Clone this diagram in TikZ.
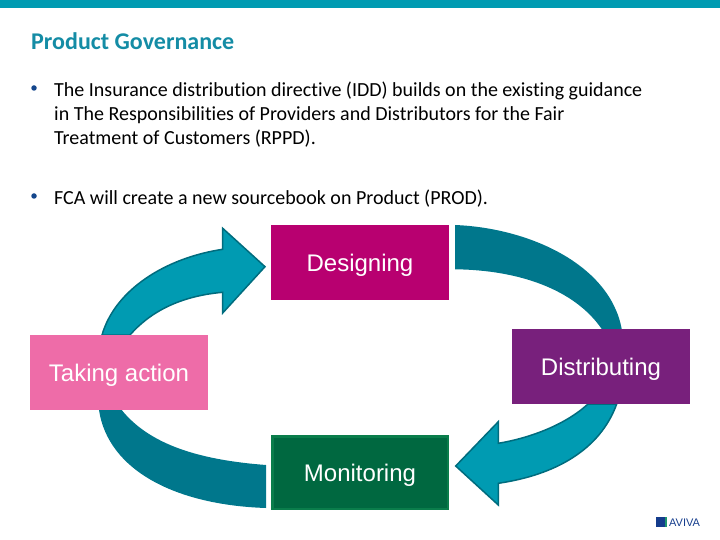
\documentclass[tikz,border=0pt]{standalone}
\usepackage{xcolor}
\usepackage{fontspec}
\setmainfont[Ligatures=NoCommon]{Carlito}
\newfontfamily\boxfont{Liberation Sans}
\usepackage{tikz}
\definecolor{aquateal}{RGB}{0, 155, 178}
\definecolor{darkteal}{RGB}{0, 119, 140}
\definecolor{edgeteal}{RGB}{0, 108, 126}
\definecolor{titleteal}{RGB}{20, 140, 165}
\definecolor{bulletblue}{RGB}{20, 70, 140}
\definecolor{magentabox}{RGB}{184, 0, 112}
\definecolor{pinkbox}{RGB}{238, 108, 168}
\definecolor{purplebox}{RGB}{120, 32, 124}
\definecolor{greenbox}{RGB}{0, 104, 64}
\definecolor{greenedge}{RGB}{10, 125, 75}
\definecolor{logoblue}{RGB}{20, 60, 140}
\definecolor{logogreen}{RGB}{30, 150, 110}
\tikzset{
    stagebox/.style={minimum width=178pt, minimum height=75pt, inner sep=0pt, text=white, text height=20pt, text depth=1.6pt, font=\boxfont\fontsize{24}{28}\selectfont},
    bodytext/.style={anchor=base west, align=left, inner sep=0pt, font=\fontsize{20}{24}\selectfont},
    bulletdot/.style={circle, fill=bulletblue, inner sep=0pt, minimum size=5.5pt},
    curvedarrow/.style={fill=aquateal, draw=edgeteal, line width=1.5pt, line join=miter}
}

\begin{document}
\begin{tikzpicture}[x=1pt, y=-1pt]
        \useasboundingbox (0,0) rectangle (720,540);

        % Top band
        \fill[aquateal] (0,0) rectangle (720,8);

        % Title
        \node[anchor=base west, inner sep=0pt, text=titleteal, font=\bfseries\fontsize{24}{28}\selectfont] (title) at (31,49.5) {Product Governance};

        % Bullets
        \node[bulletdot] (dot1) at (34,88) {};
        \node[bodytext] (para1) at (54,145) {The Insurance distribution directive (IDD) builds on the existing guidance\\in The Responsibilities of Providers and Distributors for the Fair\\Treatment of Customers (RPPD).};
        \node[bulletdot] (dot2) at (34,196) {};
        \node[bodytext] (para2) at (54,205) {FCA will create a new sourcebook on Product (PROD).};

        % Curved arrows
        \path[curvedarrow] (102,335) .. controls (115,290) and (165,258) .. (222.7,249.3) -- (222.7,228.3) -- (265,266.7) -- (222.7,313) -- (222.7,292.3) .. controls (180,296) and (150,312) .. (130,335) -- cycle;
        \path[curvedarrow] (616.7,404) .. controls (600,450) and (555,475) .. (498.3,483.3) -- (498.3,505) -- (455.7,466) -- (498.3,421.7) -- (498.3,443.3) .. controls (530,438) and (565,425) .. (588,404) -- cycle;
        \fill[darkteal] (455,225) .. controls (530,228) and (610,265) .. (621.7,329) -- (601.7,329) .. controls (575,290) and (520,270) .. (455,269.3) -- cycle;
        \fill[darkteal] (99,410) .. controls (108,470) and (175,505) .. (266,508) -- (266,465) .. controls (200,460) and (150,445) .. (121.7,410) -- cycle;

        % Stages
        \node[stagebox, fill=magentabox] (designing) at (360,262.5) {Designing};
        \node[stagebox, fill=pinkbox] (action) at (119,372.5) {Taking action};
        \node[stagebox, fill=purplebox] (distributing) at (601,366.5) {Distributing};
        \node[stagebox, fill=greenbox, draw=greenedge, line width=2.5pt, minimum width=175.5pt, minimum height=72.5pt] (monitoring) at (360,472.5) {Monitoring};

        % Logo
        \fill[logoblue] (656,517) rectangle (664.5,527);
        \fill[logogreen] (664.5,517) rectangle (667,527);
        \node[anchor=base west, inner sep=0pt, text=logoblue, font=\boxfont\fontsize{11}{12}\selectfont] (logo) at (669,526.5) {AVIVA};
    \end{tikzpicture}
\end{document}
